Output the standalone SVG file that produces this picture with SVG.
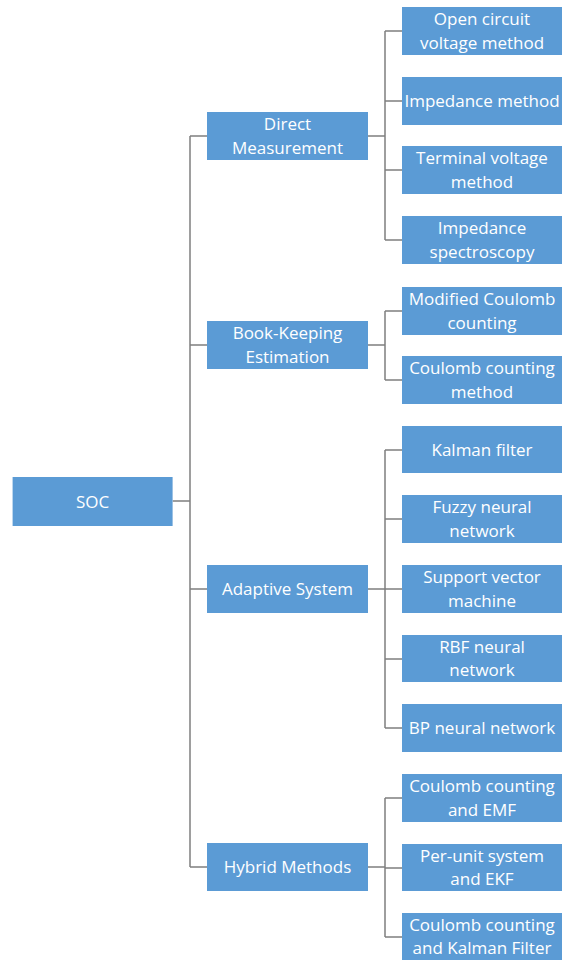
<svg xmlns="http://www.w3.org/2000/svg" width="564" height="961" viewBox="0 0 564 961">
<style>
.b{fill:#5B9BD5;}
.t{font-family:"Open Sans","Liberation Sans",sans-serif;font-size:17px;fill:#ffffff;text-anchor:middle;}
.c{stroke:#7f7f7f;stroke-width:1.5;fill:none;}
</style>
<rect width="564" height="961" fill="#ffffff"/>
<g id="connectors" class="c">
<path d="M172.7 501H190M190 136V867M190 136H207M190 345H207M190 589H207M190 867H207"/>
<path d="M368 136H385M385 31V240M385 31H402M385 101H402M385 170H402M385 240H402"/>
<path d="M368 345H385M385 311V380M385 311H402M385 380H402"/>
<path d="M368 589H385M385 450V728M385 450H402M385 519H402M385 589H402M385 659H402M385 728H402"/>
<path d="M368 867H385M385 798V937M385 798H402M385 868H402M385 937H402"/>
</g>
<g id="soc"><rect class="b" x="12.6" y="477" width="160" height="49"/><text class="t" x="92.6" y="507.5">SOC</text></g>
<g id="direct"><rect class="b" x="207" y="112" width="161" height="48"/><text class="t" x="287.5" y="130.4">Direct</text><text class="t" x="287.5" y="153.6">Measurement</text></g>
<g id="bookkeeping"><rect class="b" x="207" y="321" width="161" height="48"/><text class="t" x="287.5" y="339.4">Book-Keeping</text><text class="t" x="287.5" y="362.6">Estimation</text></g>
<g id="adaptive"><rect class="b" x="207" y="565" width="161" height="48"/><text class="t" x="287.5" y="595">Adaptive System</text></g>
<g id="hybrid"><rect class="b" x="207" y="843" width="161" height="48"/><text class="t" x="287.5" y="873">Hybrid Methods</text></g>
<g id="ocv"><rect class="b" x="402" y="7" width="160" height="48"/><text class="t" x="482" y="25.4">Open circuit</text><text class="t" x="482" y="48.6">voltage method</text></g>
<g id="impedance"><rect class="b" x="402" y="77" width="160" height="48"/><text class="t" x="482" y="107">Impedance method</text></g>
<g id="terminal"><rect class="b" x="402" y="146" width="160" height="48"/><text class="t" x="482" y="164.4">Terminal voltage</text><text class="t" x="482" y="187.6">method</text></g>
<g id="spectroscopy"><rect class="b" x="402" y="216" width="160" height="48"/><text class="t" x="482" y="234.4">Impedance</text><text class="t" x="482" y="257.6">spectroscopy</text></g>
<g id="modcoulomb"><rect class="b" x="402" y="287" width="160" height="48"/><text class="t" x="482" y="305.4">Modified Coulomb</text><text class="t" x="482" y="328.6">counting</text></g>
<g id="coulomb"><rect class="b" x="402" y="356" width="160" height="48"/><text class="t" x="482" y="374.4">Coulomb counting</text><text class="t" x="482" y="397.6">method</text></g>
<g id="kalman"><rect class="b" x="402" y="426" width="160" height="47"/><text class="t" x="482" y="455.5">Kalman filter</text></g>
<g id="fuzzy"><rect class="b" x="402" y="495" width="160" height="48"/><text class="t" x="482" y="513.4">Fuzzy neural</text><text class="t" x="482" y="536.6">network</text></g>
<g id="svm"><rect class="b" x="402" y="565" width="160" height="48"/><text class="t" x="482" y="583.4">Support vector</text><text class="t" x="482" y="606.6">machine</text></g>
<g id="rbf"><rect class="b" x="402" y="635" width="160" height="47"/><text class="t" x="482" y="652.9">RBF neural</text><text class="t" x="482" y="676.1">network</text></g>
<g id="bp"><rect class="b" x="402" y="704" width="160" height="48"/><text class="t" x="482" y="734">BP neural network</text></g>
<g id="ccemf"><rect class="b" x="402" y="774" width="160" height="48"/><text class="t" x="482" y="792.4">Coulomb counting</text><text class="t" x="482" y="815.6">and EMF</text></g>
<g id="perunit"><rect class="b" x="402" y="844" width="160" height="47"/><text class="t" x="482" y="861.9">Per-unit system</text><text class="t" x="482" y="885.1">and EKF</text></g>
<g id="cckalman"><rect class="b" x="402" y="913" width="160" height="47"/><text class="t" x="482" y="930.9">Coulomb counting</text><text class="t" x="482" y="954.1">and Kalman Filter</text></g>
</svg>
